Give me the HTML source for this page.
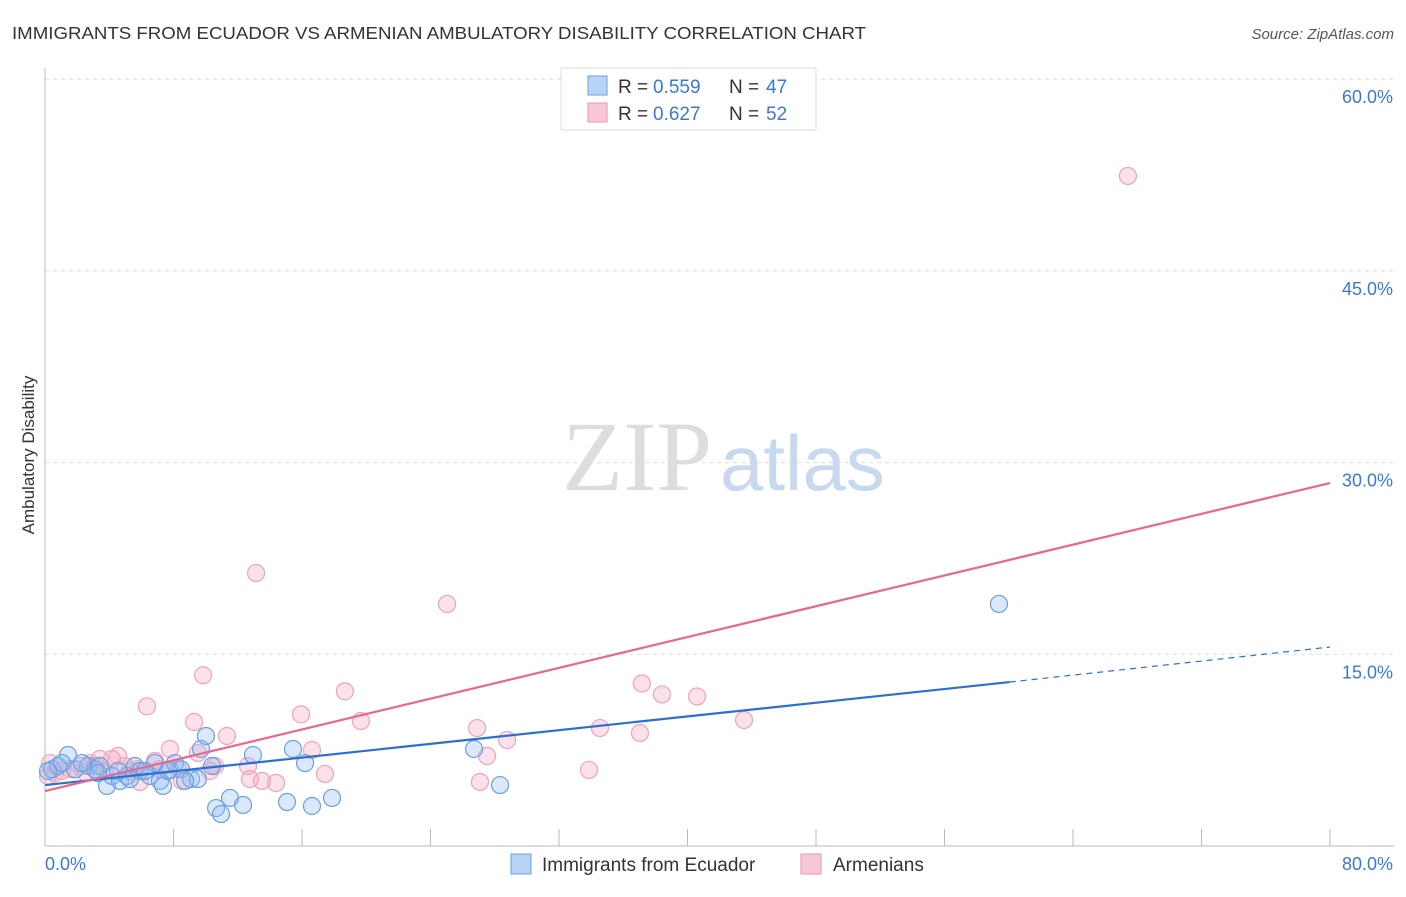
<!DOCTYPE html>
<html><head><meta charset="utf-8"><style>
body{margin:0;background:#fff;font-family:"Liberation Sans",sans-serif;}
</style></head><body>
<svg width="1406" height="892" xmlns="http://www.w3.org/2000/svg" id="chart">
<text x="12" y="39" font-size="17.5" fill="#333" textLength="854" lengthAdjust="spacingAndGlyphs">IMMIGRANTS FROM ECUADOR VS ARMENIAN AMBULATORY DISABILITY CORRELATION CHART</text>
<text x="1394" y="39" font-size="15" fill="#555" font-style="italic" text-anchor="end">Source: ZipAtlas.com</text>
<g id="grid"></g>
<text x="712" y="490" font-size="100" fill="#ddd" font-family="Liberation Serif,serif" text-anchor="end">ZIP</text>
<text x="720" y="490" font-size="78" fill="#c8d9ef">atlas</text>
<text transform="translate(34,455) rotate(-90)" font-size="17" fill="#333" text-anchor="middle">Ambulatory Disability</text>
<g id="pts"></g>
<g id="lines"></g>
<g>
<rect x="561" y="68" width="255" height="62" fill="#fff" stroke="#ddd"/>
<rect x="588" y="76" width="19" height="19" fill="#b8d3f5" stroke="#6a9fe0"/>
<text x="618" y="93" font-size="19" fill="#333">R = </text><text x="653" y="93" font-size="19" fill="#3a78d4">0.559</text>
<text x="729" y="93" font-size="19" fill="#333">N = </text><text x="766" y="93" font-size="19" fill="#3a78d4">47</text>
<rect x="588" y="103" width="19" height="19" fill="#f9c8d6" stroke="#ec93ae"/>
<text x="618" y="120" font-size="19" fill="#333">R = </text><text x="653" y="120" font-size="19" fill="#3a78d4">0.627</text>
<text x="729" y="120" font-size="19" fill="#333">N = </text><text x="766" y="120" font-size="19" fill="#3a78d4">52</text>
</g>
<g>
<rect x="511" y="854" width="20" height="20" fill="#b8d3f5" stroke="#6a9fe0"/>
<text x="542" y="871" font-size="19" fill="#333">Immigrants from Ecuador</text>
<rect x="801" y="854" width="20" height="20" fill="#f9c8d6" stroke="#ec93ae"/>
<text x="833" y="871" font-size="19" fill="#333">Armenians</text>
</g>
</svg>
<script>
const xTicks=[0,80];
const yTicks=[15,30,45,60];
const blueX=[0.44,0.81,1.43,1.87,2.68,3.11,3.42,3.86,4.17,4.67,5.11,5.6,5.91,6.53,6.85,7.16,7.35,7.78,8.09,8.47,9.09,9.52,9.71,10.02,10.4,10.65,10.96,11.52,12.33,12.95,15.07,15.44,16.19,16.62,17.87,26.71,28.33,59.39,1.06,2.3,5.29,6.22,8.72,7.66,4.55,3.3,0.19];
const blueY=[6.0,6.26,7.12,6.0,6.26,6.0,6.26,4.7,5.48,5.09,5.48,6.26,5.87,5.48,6.49,5.09,4.7,6.0,6.49,6.0,5.24,5.24,7.59,8.61,6.26,2.97,2.5,3.76,3.21,7.12,3.44,7.59,6.49,3.13,3.76,7.59,4.77,18.94,6.49,6.49,5.24,5.87,5.09,5.87,5.87,5.71,5.87];
const pinkX=[67.42,13.14,25.03,9.84,6.35,18.67,15.94,9.28,19.67,11.33,37.16,38.41,40.59,43.52,34.55,37.04,26.9,28.77,27.52,33.87,27.08,17.43,16.62,12.64,12.76,13.51,14.38,10.59,7.78,9.52,5.91,6.85,7.16,8.53,4.55,4.17,4.98,5.29,3.42,2.8,2.18,1.56,1.06,0.62,0.31,0.19,3.74,2.55,5.79,8.28,10.27,3.11];
const pinkY=[52.43,21.36,18.94,13.36,10.93,12.1,10.3,9.7,9.78,8.61,12.72,11.86,11.7,9.86,9.23,8.84,9.23,8.3,7.04,5.95,5.01,5.64,7.51,6.26,5.24,5.09,4.93,6.26,7.59,7.28,5.01,6.65,6.02,5.09,7.04,6.81,6.26,5.87,6.81,6.49,6.26,6.02,5.87,5.71,6.49,5.48,5.87,5.71,6.02,6.02,5.87,6.26];
const blueLine=[4.77,12.83,15.57];
const blueLineX=[0,60.06,80];
const pinkLine=[4.3,28.4];
const NS="http://www.w3.org/2000/svg";
const X=v=>45+v/80*1285, Y=v=>846-v/15*191.7;
function mk(t,a,p){const e=document.createElementNS(NS,t);for(const k in a)e.setAttribute(k,a[k]);p.appendChild(e);return e;}
const g=document.getElementById('grid');
let ax=mk('line',{x1:45,y1:68,x2:45,y2:846,stroke:'#bbb'},g);


let bx=mk('line',{x1:45,y1:846,x2:1394,y2:846,stroke:'#bbb'},g);


for(let i=1;i<=10;i++){const tk=mk('line',{x1:X(i*8),x2:X(i*8),y1:829,y2:846,stroke:'#bbb'},g);

}
yTicks.forEach(v=>{const l=mk('line',{x1:45,x2:1394,y1:Y(v),y2:Y(v),stroke:'#ddd','stroke-dasharray':'4,4'},g);


const t=mk('text',{x:1393,y:Y(v)+24,'font-size':18,fill:'#3a78d4','text-anchor':'end'},g);t.textContent=v.toFixed(1)+'%';

});
xTicks.forEach(v=>{const t=mk('text',{x:v==0?45:1393,y:870,'font-size':18,fill:'#3a78d4','text-anchor':v==0?'start':'end'},g);t.textContent=v.toFixed(1)+'%';

});
const p=document.getElementById('pts');
pinkX.forEach((v,i)=>{const c=mk('circle',{cx:X(v),cy:Y(pinkY[i]),r:8.5,fill:'rgba(244,170,192,0.35)',stroke:'#eea3ba','stroke-width':1.2},p);

});
blueX.forEach((v,i)=>{const c=mk('circle',{cx:X(v),cy:Y(blueY[i]),r:8.5,fill:'rgba(150,190,240,0.35)',stroke:'#6a9fe0','stroke-width':1.2},p);

});
const L=document.getElementById('lines');
let l1=mk('line',{x1:X(blueLineX[0]),y1:Y(blueLine[0]),x2:X(blueLineX[1]),y2:Y(blueLine[1]),stroke:'#2a6fd6','stroke-width':2.2},L);


let l2=mk('line',{x1:X(blueLineX[1]),y1:Y(blueLine[1]),x2:X(blueLineX[2]),y2:Y(blueLine[2]),stroke:'#2a6fd6','stroke-width':1.2,'stroke-dasharray':'6,5'},L);


let l3=mk('line',{x1:X(0),y1:Y(pinkLine[0]),x2:X(80),y2:Y(pinkLine[1]),stroke:'#e8668f','stroke-width':2.2},L);


</script>
</body></html>
